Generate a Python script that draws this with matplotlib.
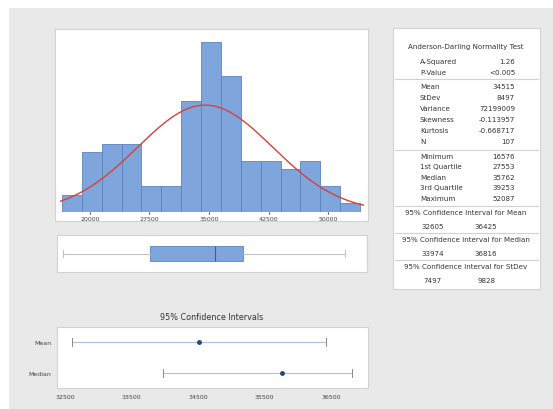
import numpy as np
import matplotlib.pyplot as plt
from matplotlib.patches import Rectangle

# ---- data ----
bin_edges = [16500 + 2500 * i for i in range(16)]
bin_counts = [2, 7, 8, 8, 3, 3, 13, 20, 16, 6, 6, 5, 6, 3, 1]
hist_ticks = [20000, 27500, 35000, 42500, 50000]

ad_rows = [("A-Squared", "1.26"), ("P-Value", "<0.005")]
moment_rows = [("Mean", "34515"), ("StDev", "8497"), ("Variance", "72199009"),
               ("Skewness", "-0.113957"), ("Kurtosis", "-0.668717"), ("N", "107")]
quartile_rows = [("Minimum", "16576"), ("1st Quartile", "27553"), ("Median", "35762"),
                 ("3rd Quartile", "39253"), ("Maximum", "52087")]
ci_mean = (32605, 36425)
ci_median = (33974, 36816)
ci_stdev = (7497, 9828)
ci_ticks = [32500, 33500, 34500, 35500, 36500]

mean = float(moment_rows[0][1])
stdev = float(moment_rows[1][1])
q = {k: float(v) for k, v in quartile_rows}

W, H = 553, 410
BAR = '#7ea6dc'
BAR_EDGE = '#5a84bd'
BG = '#e9e9e9'
PANEL_EDGE = '#d2d2d2'


def rect(x0, y0, x1, y1):
    """pixel box (top-left origin) -> figure fraction [l, b, w, h]"""
    return [x0 / W, 1 - y1 / H, (x1 - x0) / W, (y1 - y0) / H]


def panel(fig, x0, y0, x1, y1):
    l, b, w, h = rect(x0, y0, x1, y1)
    fig.patches.append(Rectangle((l, b), w, h, transform=fig.transFigure,
                                 facecolor='white', edgecolor=PANEL_EDGE,
                                 linewidth=0.8, zorder=-0.5))


fig = plt.figure(figsize=(W / 100, H / 100), dpi=100)
fig.patch.set_facecolor('white')
l, b, w, h = rect(9, 9, W, H)
fig.patches.append(Rectangle((l, b), w, h, transform=fig.transFigure,
                             facecolor=BG, edgecolor='none', zorder=-1))

panel(fig, 55, 30, 368, 222)
panel(fig, 57, 236, 367, 273)
panel(fig, 393, 29, 540, 290)
panel(fig, 57, 328, 368, 389)

xlim = (16250, 54500)

# ---- histogram with fitted normal ----
ax = fig.add_axes(rect(60, 36, 364, 213))
ax.hist(bin_edges[:-1], bins=bin_edges, weights=bin_counts,
        color=BAR, edgecolor=BAR_EDGE, linewidth=0.6)
xs = np.linspace(xlim[0], xlim[1], 300)
binw = bin_edges[1] - bin_edges[0]
pdf = sum(bin_counts) * binw / (stdev * np.sqrt(2 * np.pi)) * np.exp(-0.5 * ((xs - mean) / stdev) ** 2)
ax.plot(xs, pdf, color='#d9403a', linewidth=1.0)
ax.set_xlim(*xlim)
ax.set_ylim(0, 20.8)
ax.set_xticks(hist_ticks)
ax.set_xticklabels([str(t) for t in hist_ticks])
ax.tick_params(axis='x', labelsize=4.5, length=1.5, pad=1.5, colors='#444444')
ax.set_yticks([])
for s in ax.spines.values():
    s.set_visible(False)
ax.patch.set_alpha(0)

# ---- boxplot ----
bx = fig.add_axes(rect(60, 238, 364, 271))
stats = [dict(med=q["Median"], q1=q["1st Quartile"], q3=q["3rd Quartile"],
              whislo=q["Minimum"], whishi=q["Maximum"], fliers=[])]
bx.bxp(stats, orientation='horizontal', widths=0.45, patch_artist=True, showfliers=False,
       boxprops=dict(facecolor=BAR, edgecolor=BAR_EDGE, linewidth=0.6),
       medianprops=dict(color='#3d5f8f', linewidth=0.8),
       whiskerprops=dict(color='#c4c4c4', linewidth=0.8),
       capprops=dict(color='#c4c4c4', linewidth=0.8))
bx.set_xlim(*xlim)
bx.set_ylim(0.5, 1.5)
bx.axis('off')

# ---- confidence intervals ----
cx = fig.add_axes(rect(57, 328, 368, 389))
rows = [("Mean", ci_mean, mean, 1), ("Median", ci_median, q["Median"], 0)]
for name, (lo, hi), est, y in rows:
    cx.plot([lo, hi], [y, y], color='#a8c3e3', linewidth=0.8)
    cx.plot([lo, lo], [y - 0.12, y + 0.12], color='#8a8a8a', linewidth=0.7)
    cx.plot([hi, hi], [y - 0.12, y + 0.12], color='#8a8a8a', linewidth=0.7)
    cx.plot(est, y, 'o', color='#27467a', markersize=2.5)
cx.set_xlim(32380, 37060)
cx.set_ylim(-0.484, 1.484)
cx.set_yticks([1, 0])
cx.set_yticklabels(["Mean", "Median"])
cx.set_xticks(ci_ticks)
cx.set_xticklabels([str(t) for t in ci_ticks])
cx.tick_params(labelsize=4.5, length=0, pad=4, colors='#444444')
for s in cx.spines.values():
    s.set_visible(False)
cx.patch.set_alpha(0)
fig.text(212 / W, 1 - 318 / H, "95% Confidence Intervals", ha='center', va='center',
         fontsize=5.8, color='#333333')

# ---- summary table ----
def px(x, y):
    return x / W, 1 - y / H


tfont = dict(fontsize=5.1, color='#333333', va='center')
fig.text(*px(466, 47), "Anderson-Darling Normality Test", ha='center', **tfont)
yy = 62
for lab, val in ad_rows:
    fig.text(*px(420, yy), lab, ha='left', **tfont)
    fig.text(*px(515, yy), val, ha='right', **tfont)
    yy += 11


def sep(y):
    x0, y0 = px(395, y)
    x1, _ = px(538, y)
    fig.add_artist(plt.Line2D([x0, x1], [y0, y0], transform=fig.transFigure,
                              color=PANEL_EDGE, linewidth=0.8))


sep(80)
yy = 87
for lab, val in moment_rows:
    fig.text(*px(420, yy), lab, ha='left', **tfont)
    fig.text(*px(515, yy), val, ha='right', **tfont)
    yy += 11
sep(151)
yy = 157
for lab, val in quartile_rows:
    fig.text(*px(420, yy), lab, ha='left', **tfont)
    fig.text(*px(515, yy), val, ha='right', **tfont)
    yy += 10.5

ci_blocks = [("95% Confidence Interval for Mean", ci_mean, 207),
             ("95% Confidence Interval for Median", ci_median, 234),
             ("95% Confidence Interval for StDev", ci_stdev, 261)]
for title, (lo, hi), y in ci_blocks:
    sep(y)
    fig.text(*px(466, y + 6), title, ha='center', **tfont)
    fig.text(*px(433, y + 20), str(lo), ha='center', **tfont)
    fig.text(*px(486, y + 20), str(hi), ha='center', **tfont)

fig.savefig('out.png', dpi=100, facecolor='white')
